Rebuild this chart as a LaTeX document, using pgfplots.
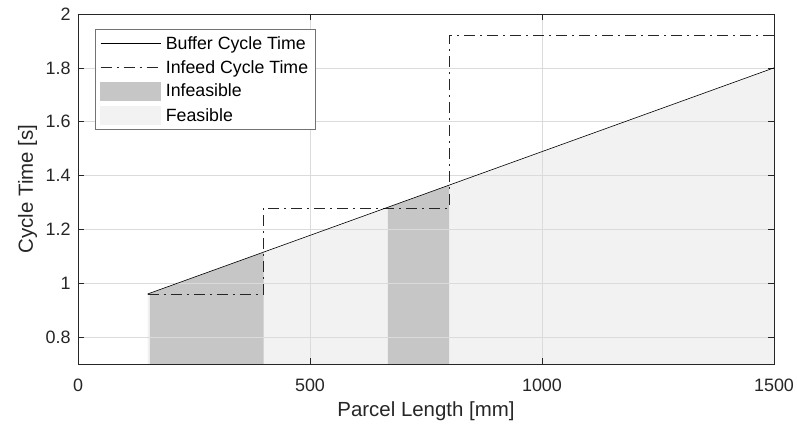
\documentclass[border=0pt]{standalone}
\usepackage{fontspec}
\setmainfont{Liberation Sans}
\usepackage{pgfplots}
\pgfplotsset{compat=1.18}
\definecolor{infeas}{RGB}{198,198,198}
\definecolor{feas}{RGB}{242,242,242}
\definecolor{axcol}{RGB}{38,38,38}
\begin{document}
\begin{tikzpicture}
\begin{axis}[
  set layers,
  scale only axis, width=696bp, height=350bp,
  xmin=0, xmax=1500, ymin=0.7, ymax=2,
  xtick={0,500,1000,1500}, ytick={0.8,1,1.2,1.4,1.6,1.8,2},
  /pgf/number format/assume math mode=true,
  /pgf/number format/1000 sep={},
  tick align=inside, major tick length=6bp,
  grid=major, major grid style={color=black!14, line width=0.5bp},
  axis line style={axcol, line width=0.6bp},
  tick style={axcol, line width=0.6bp},
  ticklabel style={font=\fontsize{18}{20}\selectfont, text=axcol},
  xticklabel style={yshift=-11bp},
  yticklabel style={xshift=-4bp},
  label style={font=\fontsize{20.5}{24}\selectfont, text=axcol},
  xlabel={Parcel Length [mm]}, ylabel={Cycle Time [s]},
  xlabel style={at={(axis description cs:0.5,-0.134)}, anchor=center},
  ylabel style={at={(axis description cs:-0.0725,0.5)}, anchor=center},
  legend style={at={(0.0244,0.957)}, anchor=north west, draw=black!55, line width=0.6bp,
    font=\fontsize{17.8}{20}\selectfont, text=black, row sep=5.5bp, inner xsep=5bp, inner ysep=5bp,
    cells={anchor=west}},
  legend cell align=left,
]
% feasible region
\addplot[fill=feas, draw=none, forget plot, on layer=axis background] coordinates {(150,0.7) (150,0.96) (1500,1.8) (1500,0.7)} -- cycle;
% infeasible regions
\addplot[fill=infeas, draw=none, forget plot, on layer=axis background] coordinates {(155,0.7) (155,0.9631) (400,1.1156) (400,0.7)} -- cycle;
\addplot[fill=infeas, draw=none, forget plot, on layer=axis background] coordinates {(668,0.7) (668,1.2823) (800,1.3644) (800,0.7)} -- cycle;
% infeed cycle time
\addplot[black!85, line width=0.6bp, dash pattern=on 11bp off 5bp on 2bp off 5bp, forget plot]
  coordinates {(150,0.96) (400,0.96) (400,1.28) (800,1.28) (800,1.92) (1500,1.92)};
% buffer cycle time
\addplot[black, line width=0.6bp, forget plot] coordinates {(150,0.96) (1500,1.8)};
% legend
\addlegendimage{legend image code/.code={\draw[black, line width=0.6bp] (0bp,0bp) -- (60bp,0bp); \path (63bp,0bp);}}
\addlegendentry{Buffer Cycle Time}
\addlegendimage{legend image code/.code={\draw[black!85, line width=0.6bp, dash pattern=on 11bp off 5bp on 2bp off 5bp] (0bp,0bp) -- (60bp,0bp); \path (63bp,0bp);}}
\addlegendentry{Infeed Cycle Time}
\addlegendimage{legend image code/.code={\fill[infeas] (0bp,-9bp) rectangle (60bp,9bp); \path (63bp,0bp);}}
\addlegendentry{Infeasible}
\addlegendimage{legend image code/.code={\fill[feas] (0bp,-9bp) rectangle (60bp,9bp); \path (63bp,0bp);}}
\addlegendentry{Feasible}
\end{axis}
\pgfresetboundingbox
\path ([shift={(-78bp,-64bp)}]current axis.south west) rectangle ([shift={(23bp,14bp)}]current axis.north east);
\end{tikzpicture}
\end{document}
